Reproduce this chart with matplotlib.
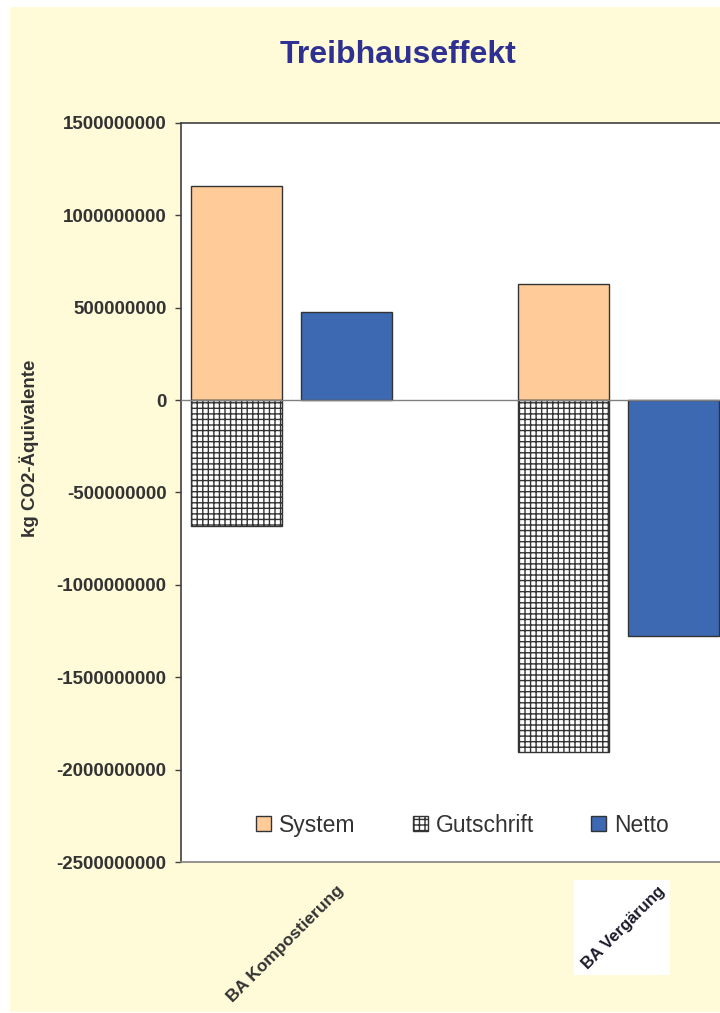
import numpy as np
import matplotlib.pyplot as plt
import matplotlib.transforms as mtransforms
from matplotlib.patches import Rectangle

plt.rcParams['font.family'] = ['Liberation Sans', 'DejaVu Sans']
plt.rcParams['hatch.linewidth'] = 1.0

# --- data (kg CO2 equivalents) ---
categories = ["BA Kompostierung", "BA Vergärung"]
system = [1158000000, 628000000]
gutschrift = [-682000000, -1905000000]
netto = [476000000, -1277000000]
yticks = np.arange(-2500000000, 1500000001, 500000000)

text_col = "#333333"
edge_col = "#333333"

fig = plt.figure(figsize=(7.2, 10.13), dpi=100, facecolor="white")
# cream chart area, kept behind the axes
fig.patches.append(Rectangle((10 / 720, 1 / 1013), 1 - 10 / 720, 1005 / 1013,
                             transform=fig.transFigure, facecolor="#FFFAD7",
                             edgecolor="none", zorder=-10))
# white patch behind the second category label
fig.patches.append(Rectangle((574 / 720, 1 - 975 / 1013), 96 / 720, 95 / 1013,
                             transform=fig.transFigure, facecolor="white",
                             edgecolor="none", zorder=-5))

ax = fig.add_axes([181 / 720, 151 / 1013, (740 - 181) / 720, 739 / 1013])
ax.set_facecolor("white")

x = np.arange(len(categories))
w = 0.278
off = 0.168
ax.bar(x - off, system, w, color="#FFCC99", edgecolor=edge_col, lw=1, label="System", zorder=2)
ax.bar(x - off, gutschrift, w, color="white", edgecolor=edge_col, lw=1, hatch="+++",
       label="Gutschrift", zorder=2)
ax.bar(x + off, netto, w, color="#3C69B2", edgecolor=edge_col, lw=1, label="Netto", zorder=2)

ax.axhline(0, color="#808080", lw=1, zorder=3)

ax.set_xlim(-0.338, 1.372)
ax.set_ylim(-2500000000, 1500000000)
ax.set_yticks(yticks)
ax.set_yticklabels([str(v) for v in yticks], fontsize=13.5, fontweight="bold", color=text_col)
ax.tick_params(axis="y", direction="out", length=4.5, width=1, color="#404040", pad=6)
ax.set_xticks([])

ax.spines["right"].set_visible(False)
for s in ["left", "top", "bottom"]:
    ax.spines[s].set_color("#404040")
    ax.spines[s].set_linewidth(1.2)
ax.spines["bottom"].set_color("#808080")

ax.set_ylabel("kg CO2-Äquivalente", fontsize=13.5, fontweight="bold", color=text_col)
ax.yaxis.set_label_coords(-0.254, 0.56)

# category labels under the axis
trans = mtransforms.blended_transform_factory(ax.transData, ax.transAxes)
ax.text(x[0] + 0.152, -0.035, categories[0], transform=trans, rotation=45,
        ha="right", va="center", rotation_mode="anchor", fontsize=12.5,
        fontweight="bold", color=text_col)
ax.text(x[1] + 0.134, -0.036, categories[1], transform=trans, rotation=45,
        ha="right", va="center", rotation_mode="anchor", fontsize=12,
        fontweight="bold", color="#1a1a2a")

fig.text(398 / 720, 1 - 55 / 1013, "Treibhauseffekt", ha="center", va="center",
         fontsize=23, fontweight="bold", color="#2E3192")

leg = ax.legend(loc="center left", bbox_to_anchor=(0.134, 0.05), ncol=3, frameon=False,
                fontsize=16.5, handlelength=0.65, handleheight=0.65, handletextpad=0.35,
                columnspacing=2.5, borderpad=0, borderaxespad=0)
for t in leg.get_texts():
    t.set_color(text_col)

fig.savefig("out.png", dpi=100, facecolor=fig.get_facecolor())
